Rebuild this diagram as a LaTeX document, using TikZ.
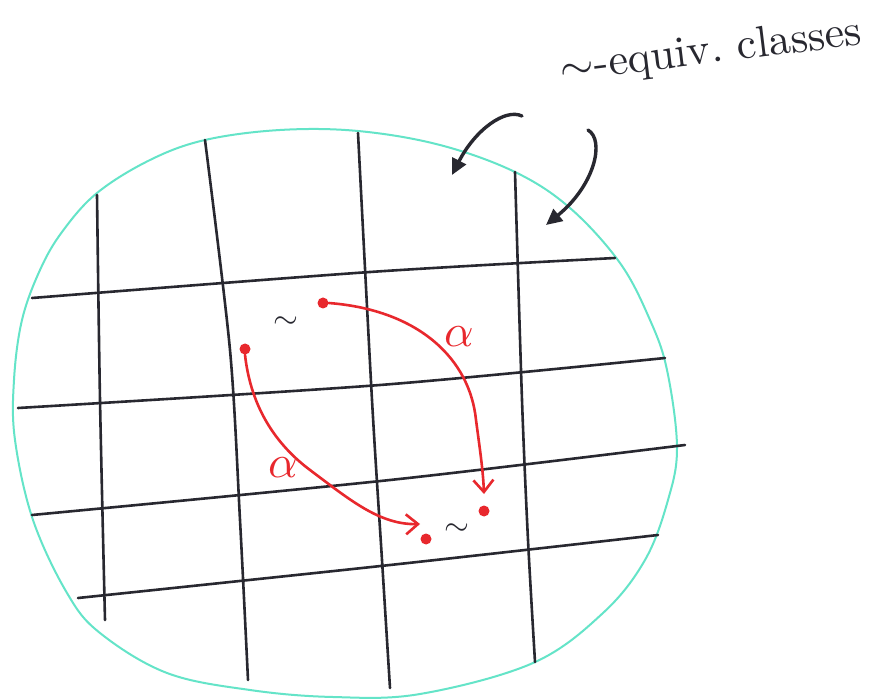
\documentclass[tikz,border=0pt]{standalone}
\usetikzlibrary{arrows.meta}
\definecolor{teal1}{RGB}{100,228,200}
\definecolor{red1}{RGB}{232,40,45}
\definecolor{ink}{RGB}{40,40,48}
\begin{document}
\begin{tikzpicture}[x=1pt,y=-1pt,
  grid/.style={ink,line width=2.6pt,line cap=round},
  blob/.style={teal1,line width=2pt},
  redarr/.style={red1,line width=2.6pt,line cap=round,-{Straight Barb[length=12pt,width=20pt,line width=2.6pt]}},
  blackarr/.style={ink,line width=3.4pt,line cap=round,-{Triangle[length=16pt,width=15pt]}},
  dot/.style={circle,fill=red1,inner sep=0pt,minimum size=11pt},
  lbl/.style={scale=3.2,inner sep=1pt},
  alph/.style={scale=4.6,inner sep=1pt,text=red1}]
\useasboundingbox (0,0) rectangle (889,700);
\fill[white] (0,0) rectangle (889,700);
% blob
\draw[blob] plot[smooth cycle,tension=0.6] coordinates {(97,193) (150,160) (205,140) (280,130) (358,131) (440,145) (515,172) (570,208) (620,263) (650,320) (667,370) (677,447) (668,500) (645,560) (603,613) (533,663) (420,694) (333,697) (250,690) (167,673) (100,633) (67,593) (33,520) (15,440) (14,380) (22,320) (40,270) (62,232)};
% vertical lines
\draw[grid] plot[smooth] coordinates {(97,195) (100,400) (105,620)};
\draw[grid] plot[smooth] coordinates {(205,140) (230,350) (240,520) (248,680)};
\draw[grid] plot[smooth] coordinates {(358,133) (372,400) (382,560) (390,688)};
\draw[grid] plot[smooth] coordinates {(515,172) (522,400) (528,540) (535,662)};
% horizontal lines
\draw[grid] plot[smooth] coordinates {(32,298) (370,272) (615,258)};
\draw[grid] plot[smooth] coordinates {(18,408) (380,385) (665,358)};
\draw[grid] plot[smooth] coordinates {(32,515) (390,480) (685,445)};
\draw[grid] plot[smooth] coordinates {(78,598) (390,565) (658,535)};
% red dots
\node[dot] (a) at (323,303) {};
\node[dot] (b) at (245,349) {};
\node[dot] (c) at (484,511) {};
\node[dot] (d) at (426,539) {};
\coordinate (cT) at (484,494);
\coordinate (dT) at (420,524);
% red arrows
\draw[redarr] (a.east) .. controls (420,310) and (470,360) .. (476,420) .. controls (480,450) and (483,470) .. (cT);
\draw[redarr] (b.south) .. controls (250,400) and (270,440) .. (310,470) .. controls (350,500) and (380,525) .. (dT);
\node[alph] (al1) at (459,337) {$\alpha$};
\node[alph] (al2) at (283,468) {$\alpha$};
\node[lbl,text=ink] (t1) at (286,323) {$\sim$};
\node[lbl,text=ink] (t2) at (457,530) {$\sim$};
% label
\node[scale=4.4,inner sep=1pt,text=ink,rotate=7,anchor=center] (cls) at (711,52) {$\sim$-equiv.\ classes};
\coordinate (s1) at (522,116);
\coordinate (e1) at (452,175);
\coordinate (s2) at (588,130);
\coordinate (e2) at (546,225);
\draw[blackarr] (s1) .. controls (505,108) and (475,130) .. (e1);
\draw[blackarr] (s2) .. controls (605,140) and (595,185) .. (e2);
\end{tikzpicture}
\end{document}
